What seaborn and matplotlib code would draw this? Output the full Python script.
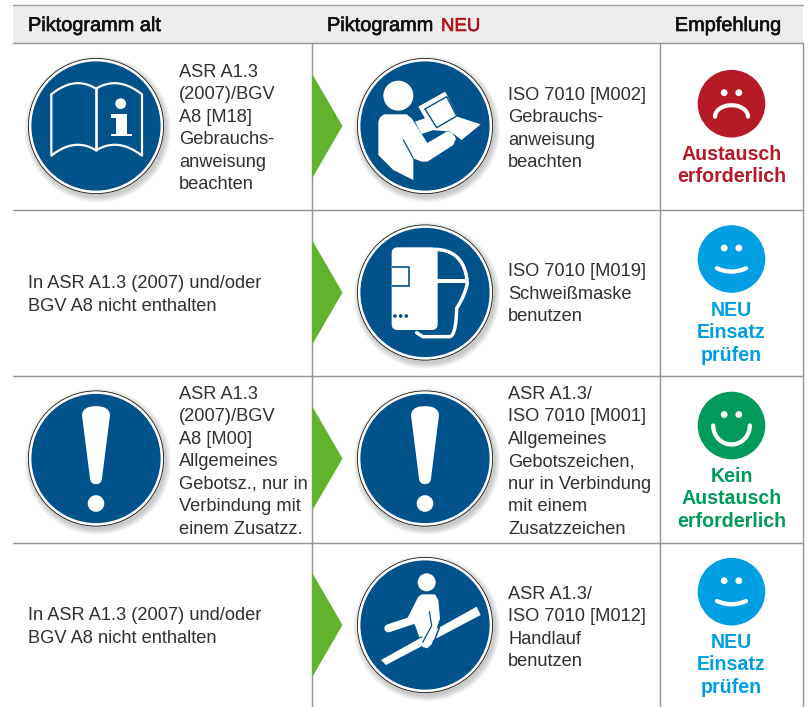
import numpy as np, pandas as pd
import matplotlib
matplotlib.use("Agg")
import matplotlib.pyplot as plt
import matplotlib.patheffects as pe
from matplotlib.patches import Circle, Polygon, Rectangle, FancyBboxPatch
import seaborn as sns

# ---------- content ----------
headers = ["Piktogramm alt", "Piktogramm ", "NEU", "Empfehlung"]
old_text = [
    ["ASR A1.3", "(2007)/BGV", "A8 [M18]", "Gebrauchs-", "anweisung", "beachten"],
    ["In ASR A1.3 (2007) und/oder", "BGV A8 nicht enthalten"],
    ["ASR A1.3", "(2007)/BGV", "A8 [M00]", "Allgemeines", "Gebotsz., nur in", "Verbindung mit", "einem Zusatzz."],
    ["In ASR A1.3 (2007) und/oder", "BGV A8 nicht enthalten"],
]
new_text = [
    ["ISO 7010 [M002]", "Gebrauchs-", "anweisung", "beachten"],
    ["ISO 7010 [M019]", "Schweißmaske", "benutzen"],
    ["ASR A1.3/", "ISO 7010 [M001]", "Allgemeines", "Gebotszeichen,", "nur in Verbindung", "mit einem", "Zusatzzeichen"],
    ["ASR A1.3/", "ISO 7010 [M012]", "Handlauf", "benutzen"],
]
advice = [
    ["Austausch", "erforderlich"],
    ["NEU", "Einsatz", "prüfen"],
    ["Kein", "Austausch", "erforderlich"],
    ["NEU", "Einsatz", "prüfen"],
]
moods = ["bad", "new", "good", "new"]

# ---------- styles ----------
BLUE = "#00528a"
GREEN = "#63b22e"
RED = "#b5121b"
mood_col = {"bad": "#b51a26", "new": "#009fe3", "good": "#009a5b"}
LINE = "#969696"
TXT = "#303030"
FS = 13.15
LH = 22.45

sns.set_theme(style="white")
plt.rcParams["font.family"] = ["Liberation Sans", "DejaVu Sans"]
fig = plt.figure(figsize=(8.08, 7.07), dpi=100, facecolor="white")
ax = fig.add_axes([0, 0, 1, 1])
ax.set_xlim(0, 808); ax.set_ylim(707, 0); ax.axis("off")

# ---------- grid ----------
row_y = [43.3, 209.6, 376, 542.5]
row_mid = [126, 292.5, 458.5, 625]
face_y = [103.7, 259, 425.5, 591.7]
X_L, X1, X2, X3 = 13, 311.5, 659.5, 803
ax.add_patch(Rectangle((X_L, 5), X3 - X_L, 38, fc="#ededed", ec="none", zorder=0))
ax.plot([X_L, X3], [5, 5], color="#a0a0a0", lw=1.0, zorder=1)
for y in row_y:
    ax.plot([X_L, X3], [y, y], color=LINE, lw=1.05, zorder=1)
for x in (X1, X2, X3):
    ax.plot([x, x], [43, 707], color=LINE, lw=1.05, zorder=1)

# ---------- header ----------
medium = [pe.withStroke(linewidth=0.45, foreground="#111111")]
hkw = dict(fontsize=14.35, va="baseline", color="#111111", path_effects=medium)
ax.text(28, 31, headers[0], **hkw)
ax.text(327, 31, headers[1], **hkw)
ax.text(441, 31, headers[2], fontsize=13.4, va="baseline", color=RED,
        path_effects=[pe.withStroke(linewidth=0.45, foreground=RED)])
ax.text(728, 31, headers[3], ha="center", **hkw)

# ---------- text blocks ----------
def block(x, y0, lines, **kw):
    for i, s in enumerate(lines):
        ax.text(x, y0 + i * LH, s, va="baseline", **kw)

old_pos = [(179, 77), (28, 288.5), (179, 399), (28, 620.5)]
new_base = [100, 276.5, 399, 599]
for lines, (x, y) in zip(old_text, old_pos):
    block(x, y, lines, fontsize=FS, color=TXT)
for lines, y in zip(new_text, new_base):
    block(508, y, lines, fontsize=FS, color=TXT)
adv_base = [159.8, 315.8, 481.8, 647.8]
for lines, y, m in zip(advice, adv_base, moods):
    block(731.5, y, lines, fontsize=14.1, color=mood_col[m], weight="bold", ha="center")

# ---------- arrows ----------
for y in row_mid:
    ax.add_patch(Polygon([(312, y - 52.5), (342.5, y), (312, y + 52.5)], fc=GREEN, ec="none", zorder=2))

# ---------- pictogram discs ----------
cx_old, cx_new = 96, 425
discs = [(cx_old, row_mid[0]), (cx_new, row_mid[0]), (cx_new, row_mid[1]),
         (cx_old, row_mid[2]), (cx_new, row_mid[2]), (cx_new, row_mid[3])]
for cx, cy in discs:
    for k in range(7):
        ax.add_patch(Circle((cx + 1.8, cy + 3), 68.0 + k * 0.9, fc="black", alpha=0.03, ec="none", zorder=2))
    ax.add_patch(Circle((cx, cy), 68, fc="#111111", ec="none", zorder=3))
    ax.add_patch(Circle((cx, cy), 67.2, fc="white", ec="none", zorder=3))
    ax.add_patch(Circle((cx, cy), 64.6, fc=BLUE, ec="none", zorder=3))

def Z(cx, cy, pts, c0):
    """zoomed reference coordinates -> canvas"""
    return [(cx + (x - c0[0]) / 3, cy + (y - c0[1]) / 3) for x, y in pts]

def poly(pts, fc="white", z=4):
    ax.add_patch(Polygon(pts, closed=True, fc=fc, ec="none", zorder=z))

def line(pts, c="white", lw=1.5, z=4, cap="round"):
    xs, ys = zip(*pts)
    ax.plot(xs, ys, color=c, lw=lw, zorder=z, solid_capstyle=cap, solid_joinstyle="round")

def smooth(p0, ctrl):
    """quadratic chain of bezier segments sampled to points"""
    out = []
    pts = [p0] + ctrl
    for i in range(0, len(pts) - 2, 2):
        a, b, c = map(np.array, pts[i:i + 3])
        for t in np.linspace(0, 1, 14):
            out.append(tuple((1 - t) ** 2 * a + 2 * t * (1 - t) * b + t ** 2 * c))
    return out

def dot(cx, cy, p, c0, r, fc="white", z=4):
    ax.add_patch(Circle(Z(cx, cy, [p], c0)[0], r, fc=fc, ec="none", zorder=z))

# book
c0 = (289, 377)
cx, cy = cx_old, row_mid[0]
top = smooth((155, 282), [(225, 225), (289, 265), (355, 225), (427, 282)])
bot = smooth((427, 466), [(355, 410), (289, 450), (225, 410), (155, 466)])
line(Z(cx, cy, top + bot + [top[0]], c0), lw=1.6)
line(Z(cx, cy, [(289, 262), (289, 450)], c0), lw=1.9)
dot(cx, cy, (363, 310), c0, 5.4)
poly(Z(cx, cy, [(333, 340), (383, 340), (383, 400), (396, 400), (396, 408), (333, 408), (333, 400), (350, 400), (350, 352), (333, 352)], c0))

# reader
c0 = (225, 213)
cx, cy = cx_new, row_mid[0]
dot(cx, cy, (145, 122), c0, 15)
poly(Z(cx, cy, [(85, 300), (85, 200), (90, 187), (102, 178), (170, 178), (185, 190), (232, 264), (290, 230), (305, 232), (318, 250),
                (310, 270), (232, 320), (215, 320), (190, 310), (190, 375), (130, 345)], c0))
line(Z(cx, cy, [(160, 255), (190, 310)], c0), c=BLUE, lw=0.9, z=5)
poly(Z(cx, cy, [(195, 200), (225, 190), (250, 225), (215, 237)], c0))
poly(Z(cx, cy, [(205, 155), (285, 110), (292, 122), (322, 185), (392, 208), (335, 255), (302, 230), (245, 225)], c0))
line(Z(cx, cy, [(225, 162), (290, 125), (320, 183), (260, 218), (225, 162)], c0), c=BLUE, lw=1.0, z=5)

# welding mask
c0 = (225, 217.5)
cx, cy = cx_new, row_mid[1]
line(Z(cx, cy, smooth((255, 88), [(345, 90), (352, 190), (345, 225), (320, 265), (318, 345), (300, 350)]) + [(218, 350), (200, 338)], c0), lw=2.5)
line(Z(cx, cy, [(255, 183), (354, 183)], c0), lw=2.9, cap="butt")
a, b = Z(cx, cy, [(125, 82), (263, 330)], c0)
ax.add_patch(FancyBboxPatch((a[0] + 6, a[1] + 6), b[0] - a[0] - 12, b[1] - a[1] - 12,
                            boxstyle="round,pad=6,rounding_size=6", fc="white", ec="none", zorder=4))
line(Z(cx, cy, [(125, 142), (178, 142), (178, 198), (125, 198)], c0), c=BLUE, lw=1.2, z=5, cap="butt")
for px in (135, 152, 169):
    dot(cx, cy, (px, 288), c0, 1.8, fc=BLUE, z=5)

# exclamation marks
def bang(cx, cy):
    c = (375, 265)
    body = smooth((333, 135), [(335, 108), (375, 108), (415, 108), (417, 135)])
    body += [(393, 325)] + smooth((393, 325), [(391, 342), (375, 342), (359, 342), (357, 325)])
    poly(Z(cx, cy, body, c))
    dot(cx, cy, (375, 400), c, 8.3)
bang(cx_old, row_mid[2])
bang(cx_new, row_mid[2])

# handrail
c0 = (225, 210)
cx, cy = cx_new, row_mid[3]
dot(cx, cy, (230, 82), c0, 9)
poly(Z(cx, cy, [(93, 315), (380, 155), (392, 180), (108, 330)], c0))
line(Z(cx, cy, [(115, 220), (190, 195)], c0), lw=5.8)
line(Z(cx, cy, [(268, 218), (246, 276), (212, 282)], c0), c=BLUE, lw=1.1, z=5)
poly(Z(cx, cy, [(172, 190), (205, 125), (215, 118), (255, 118), (265, 135), (270, 190), (262, 215), (245, 268), (232, 280), (218, 276), (212, 258), (195, 210)], c0), z=5)
line(Z(cx, cy, [(238, 170), (245, 212), (218, 262)], c0), c=BLUE, lw=0.9, z=6)
line(Z(cx, cy, [(192, 252), (216, 246)], c0), c=BLUE, lw=0.8, z=6)

# ---------- faces ----------
faces = pd.DataFrame({"x": [731.5] * 4, "y": face_y, "mood": moods})
sns.scatterplot(data=faces, x="x", y="y", hue="mood", palette=mood_col, s=(67.6 * 0.72) ** 2,
                linewidth=0, legend=False, ax=ax, zorder=4)
ax.set_xlim(0, 808); ax.set_ylim(707, 0); ax.axis("off")
for y, m in zip(face_y, moods):
    for dx in (-7.3, 7.3):
        ax.add_patch(Circle((731.5 + dx, y - 11), 3.4, fc="white", ec="none", zorder=5))
    th = np.linspace(0, np.pi, 40)
    if m == "good":
        mouth = list(zip(-18.3 * np.cos(th), 19 * np.sin(th)))
        w = 3.1
    elif m == "new":
        mouth = smooth((-14.5, 9.3), [(0, 15.8), (14.5, 9.3)])
        w = 3.1
    else:
        mouth = list(zip(-16.5 * np.cos(th), 13 - 11.5 * np.sin(th)))
        w = 3.0
    line([(731.5 + a, y + b) for a, b in mouth], lw=w, z=5)

fig.savefig("out.png", dpi=100, facecolor="white")
